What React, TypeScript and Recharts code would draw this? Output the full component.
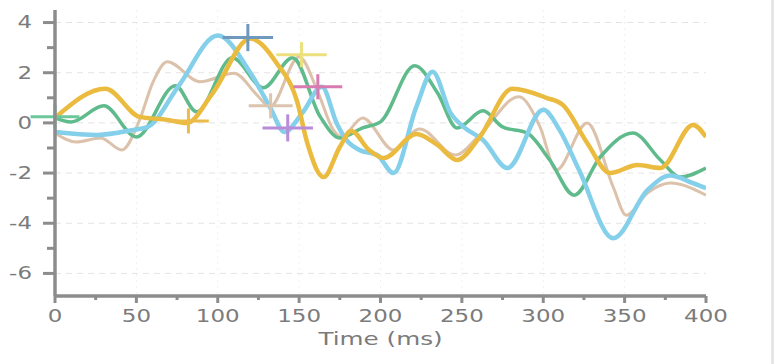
import React from "react";
import {
  ComposedChart,
  Line,
  Scatter,
  ErrorBar,
  XAxis,
  YAxis,
  CartesianGrid,
  Label,
} from "recharts";

// time (ms) / amplitude key points, per trace
const greenT = [0, 10, 30, 50, 74, 87, 109, 128, 146, 163, 175, 189, 200, 221, 235, 247, 263, 275, 290, 304, 319, 335, 355, 372, 384, 400];
const greenV = [0.2, 0.04, 0.68, -0.56, 1.48, 0.44, 2.6, 1.4, 2.6, 0.24, -0.6, -0.2, 0.04, 2.28, 1.2, -0.2, 0.48, -0.16, -0.4, -1.48, -2.88, -1.36, -0.4, -1.48, -2.16, -1.8];

const blueT = [0, 26, 48, 57, 76, 100, 120, 132, 141, 152, 164, 173, 179, 187, 198, 208, 222, 232, 243, 251, 263, 278, 300, 310, 322, 343, 364, 378, 392, 400];
const blueV = [-0.36, -0.48, -0.28, -0.16, 1.48, 3.48, 2.0, 0.64, -0.36, 0.4, 1.44, 0, -0.68, -1.08, -1.28, -2.0, 0.64, 2.04, 0.4, -0.16, -0.68, -1.8, 0.52, -0.28, -1.88, -4.6, -2.68, -2.1, -2.4, -2.6];

const goldT = [0, 31, 52, 69, 81, 97, 120, 136, 149, 155, 165, 175, 182, 193, 202, 222, 235, 247, 261, 281, 302, 312, 327, 341, 358, 372, 392, 400];
const goldV = [0.2, 1.36, 0.24, 0.12, 0, 1.2, 3.36, 2.4, 0.8, -0.8, -2.16, -0.96, -0.32, -1.08, -1.4, -0.44, -0.88, -1.48, -0.56, 1.36, 1.0, 0.72, -0.8, -2.0, -1.68, -1.8, -0.08, -0.56];

const tanT = [0, 13, 28, 41, 52, 60, 69, 89, 110, 124, 132, 150, 161, 171, 176, 189, 208, 224, 246, 261, 285, 298, 308, 327, 343, 351, 364, 378, 400];
const tanV = [-0.4, -0.76, -0.6, -1.08, 0.12, 1.6, 2.44, 1.64, 1.98, 1.12, 0.64, 2.64, 1.32, -0.28, -0.56, 0.2, -1.08, -0.24, -1.28, -0.48, 1.04, -0.16, -1.88, 0, -2.56, -3.68, -2.8, -2.4, -2.88];

// peak markers: centre plus spread in both directions
const crossT = [0, 82, 118.5, 151.5, 132.5, 161.5, 143];
const crossV = [0.24, 0.08, 3.4, 2.72, 0.68, 1.44, -0.2];
const crossTErr = [15, 12.5, 15.5, 15.5, 13.5, 15, 15.5];
const crossVErr = [0.48, 0.5, 0.54, 0.5, 0.5, 0.5, 0.54];
const crossColors = ["#6cc79b", "#ebbc4a", "#6f98bd", "#ece07e", "#dcc4ae", "#d77bb0", "#b98bd9"];

const xTicks = [0, 25, 50, 75, 100, 125, 150, 175, 200, 225, 250, 275, 300, 325, 350, 375, 400];
const yTicks = [-6, -5, -4, -3, -2, -1, 0, 1, 2, 3, 4];

const FONT = '"DejaVu Sans", Verdana, sans-serif';
const LABEL = "#7b7b7b";
const AXIS = "#8c8c8c";

function pts(ts: number[], vs: number[]) {
  return ts.map((t, i) => ({ t, v: vs[i] }));
}

function YTick({ x, y, payload }: any) {
  const v = payload.value;
  const major = v % 2 === 0;
  return (
    <g>
      <line x1={x - (major ? 12 : 8)} x2={x} y1={y} y2={y} stroke={AXIS} strokeWidth={3} />
      {major && (
        <text
          transform={`translate(${x - 23},${y}) scale(1.35,1)`}
          textAnchor="end"
          dominantBaseline="central"
          fill={LABEL}
          fontSize={17}
          fontFamily={FONT}
        >
          {v}
        </text>
      )}
    </g>
  );
}

function XTick({ x, y, payload }: any) {
  const v = payload.value;
  const major = v % 50 === 0;
  return (
    <g>
      <line x1={x} x2={x} y1={y} y2={y + (major ? 7 : 4)} stroke={AXIS} strokeWidth={3} />
      {major && (
        <text
          transform={`translate(${x},${y + 20}) scale(1.35,1)`}
          textAnchor="middle"
          dominantBaseline="central"
          fill={LABEL}
          fontSize={17}
          fontFamily={FONT}
        >
          {v}
        </text>
      )}
    </g>
  );
}

function AxisTitle(props: any) {
  const vb = props.viewBox || {};
  return (
    <text
      transform={`translate(${vb.x + vb.width / 2},${vb.y + 43}) scale(1.45,1)`}
      textAnchor="middle"
      dominantBaseline="central"
      fill={LABEL}
      fontSize={17}
      fontFamily={FONT}
    >
      Time (ms)
    </text>
  );
}

const noDot = () => <g />;

export default function App() {
  const series = [
    { key: "tan", d: pts(tanT, tanV), color: "#dcc2ab", w: 3 },
    { key: "green", d: pts(greenT, greenV), color: "#5fba8c", w: 3.5 },
    { key: "blue", d: pts(blueT, blueV), color: "#84cfea", w: 4.5 },
    { key: "gold", d: pts(goldT, goldV), color: "#ebbb3f", w: 4.5 },
  ];
  const crosses = crossT.map((t, i) => ({ t, v: crossV[i], ex: crossTErr[i], ey: crossVErr[i] }));

  return (
    <div style={{ position: "fixed", left: 0, top: 0, width: 784, height: 364, background: "#fff" }}>
      {/* the markers may stick out past the y axis, as in the original */}
      <style>{`.recharts-scatter, .recharts-scatter * { clip-path: none !important; }`}</style>
      <ComposedChart width={784} height={364} margin={{ top: 10, right: 78, bottom: 8, left: 0 }}>
        <CartesianGrid
          horizontal={false}
          verticalValues={[50, 100, 150, 200, 250, 300, 350]}
          stroke="#f0f0f0"
          strokeDasharray="2 4"
        />
        <CartesianGrid
          vertical={false}
          horizontalValues={[-6, -4, -2, 0, 2, 4]}
          stroke="#e4e4e4"
          strokeDasharray="6 5"
        />
        <XAxis
          dataKey="t"
          type="number"
          domain={[0, 400]}
          allowDataOverflow
          ticks={xTicks}
          interval={0}
          height={60}
          tickSize={0}
          tickMargin={0}
          tickLine={false}
          tick={<XTick />}
          axisLine={{ stroke: AXIS, strokeWidth: 3.5 }}
        >
          <Label content={<AxisTitle />} />
        </XAxis>
        <YAxis
          type="number"
          domain={[-6.9, 4.5]}
          allowDataOverflow
          ticks={yTicks}
          interval={0}
          width={55}
          tickSize={0}
          tickMargin={0}
          tickLine={false}
          tick={<YTick />}
          axisLine={{ stroke: AXIS, strokeWidth: 3.5 }}
        />
        {series.map((s) => (
          <Line
            key={s.key}
            data={s.d}
            dataKey="v"
            type="monotone"
            stroke={s.color}
            strokeWidth={s.w}
            dot={false}
            activeDot={false}
            isAnimationActive={false}
          />
        ))}
        {crosses.map((c, i) => (
          <Scatter key={i} data={[c]} dataKey="v" shape={noDot} isAnimationActive={false}>
            <ErrorBar dataKey="ex" direction="x" width={0} stroke={crossColors[i]} strokeWidth={3} isAnimationActive={false} />
            <ErrorBar dataKey="ey" direction="y" width={0} stroke={crossColors[i]} strokeWidth={3} isAnimationActive={false} />
          </Scatter>
        ))}
      </ComposedChart>
      <div style={{ position: "absolute", left: 771, top: 0, width: 3, height: 364, background: "#e6e6e6" }} />
    </div>
  );
}
